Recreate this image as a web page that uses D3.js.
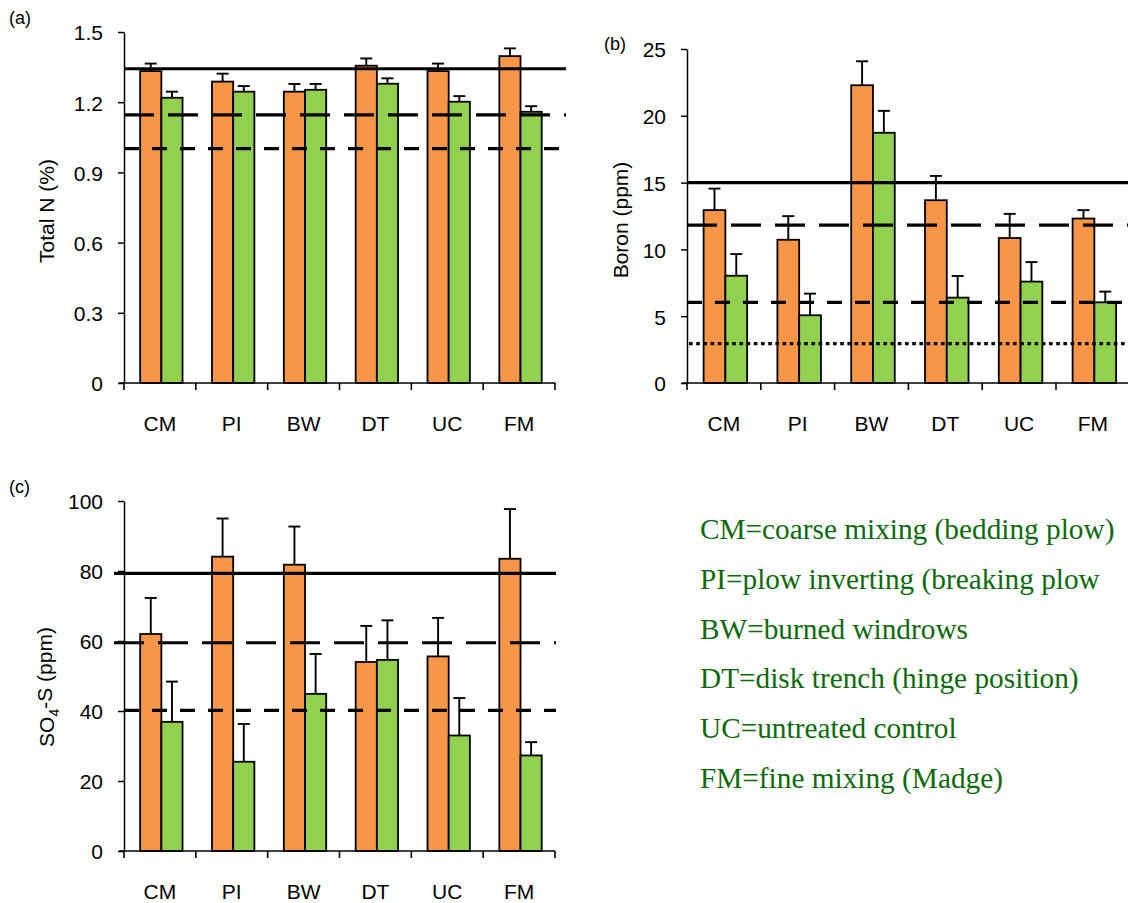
<!DOCTYPE html>
<html>
<head>
<meta charset="utf-8">
<script src="https://cdn.jsdelivr.net/npm/d3@7"></script>
<style>
  html, body { margin: 0; padding: 0; background: #fff; }
  svg { display: block; }
  text { font-family: "Liberation Sans", Arial, sans-serif; fill: #000; }
</style>
</head>
<body>
<svg id="chart" width="1128" height="903"></svg>
<script>
// Site preparation treatments
const treatments = ["CM", "PI", "BW", "DT", "UC", "FM"];

// (a) Total N (%)
const totalNOrange    = [1.333, 1.288, 1.245, 1.356, 1.333, 1.397];
const totalNOrangeErr = [0.032, 0.034, 0.033, 0.031, 0.032, 0.033];
const totalNGreen     = [1.219, 1.245, 1.253, 1.279, 1.202, 1.159];
const totalNGreenErr  = [0.026, 0.024, 0.025, 0.023, 0.024, 0.024];
const totalNRefs      = [1.343, 1.146, 1.002];
const totalNTicks     = [0, 0.3, 0.6, 0.9, 1.2, 1.5];

// (b) Boron (ppm)
const boronOrange     = [12.94, 10.72, 22.29, 13.68, 10.85, 12.31];
const boronOrangeErr  = [1.61, 1.77, 1.79, 1.82, 1.81, 0.63];
const boronGreen      = [8.03, 5.07, 18.73, 6.39, 7.59, 6.04];
const boronGreenErr   = [1.62, 1.62, 1.64, 1.62, 1.46, 0.80];
const boronRefs       = [15.0, 11.82, 6.04, 2.94];
const boronTicks      = [0, 5, 10, 15, 20, 25];

// (c) SO4-S (ppm)
const sulfateOrange    = [62.0, 84.1, 81.8, 54.0, 55.6, 83.5];
const sulfateOrangeErr = [10.3, 10.9, 10.9, 10.3, 11.0, 14.2];
const sulfateGreen     = [36.9, 25.5, 44.9, 54.6, 33.0, 27.3];
const sulfateGreenErr  = [11.5, 10.8, 11.4, 11.3, 10.7, 3.8];
const sulfateRefs      = [79.3, 59.5, 40.2];
const sulfateTicks     = [0, 20, 40, 60, 80, 100];

// Abbreviation key
const keyLines = [
  "CM=coarse mixing (bedding plow)",
  "PI=plow inverting (breaking plow",
  "BW=burned windrows",
  "DT=disk trench (hinge position)",
  "UC=untreated control",
  "FM=fine mixing (Madge)"
];

const ORANGE = "#F79646";
const GREEN = "#92D050";
const FONT_PX = "21px";
const refStyles = [
  { dash: null, width: 3.2 },
  { dash: "30,14", width: 3.2 },
  { dash: "15,13", width: 3.2 },
  { dash: "3.6,3.6", width: 3.2 }
];

const svg = d3.select("#chart");

function drawPanel(opt) {
  const g = svg.append("g");
  const x = d3.scaleBand().domain(treatments).range([opt.left, opt.right]).paddingInner(0).paddingOuter(0);
  const y = d3.scaleLinear().domain([0, opt.max]).range([opt.bottom, opt.top]);
  const step = x.step();
  const barW = step * 0.295;
  const groupStart = step * 0.225;

  const rows = treatments.map((t, i) => ({
    t, o: opt.orange[i], oe: opt.orangeErr[i], gr: opt.green[i], ge: opt.greenErr[i]
  }));

  // bars
  const bars = [];
  rows.forEach(r => {
    bars.push({ x: x(r.t) + groupStart, v: r.o, e: r.oe, c: ORANGE });
    bars.push({ x: x(r.t) + groupStart + barW, v: r.gr, e: r.ge, c: GREEN });
  });

  g.selectAll("rect.bar").data(bars).join("rect")
    .attr("class", "bar")
    .attr("x", d => d.x)
    .attr("y", d => y(d.v))
    .attr("width", barW)
    .attr("height", d => y(0) - y(d.v))
    .attr("fill", d => d.c)
    .attr("stroke", "#000")
    .attr("stroke-width", 1.8);

  // upper error bars
  const eb = g.selectAll("g.err").data(bars).join("g").attr("class", "err")
    .attr("stroke", "#000").attr("stroke-width", 1.9);
  eb.append("line")
    .attr("x1", d => d.x + barW / 2).attr("x2", d => d.x + barW / 2)
    .attr("y1", d => y(d.v)).attr("y2", d => y(d.v + d.e));
  eb.append("line")
    .attr("x1", d => d.x + barW / 2 - 6).attr("x2", d => d.x + barW / 2 + 6)
    .attr("y1", d => y(d.v + d.e)).attr("y2", d => y(d.v + d.e));

  // y axis
  const yAxis = d3.axisLeft(y).tickValues(opt.ticks).tickSize(6).tickSizeOuter(0)
    .tickFormat(d => d3.format("")(d));
  const ya = g.append("g").attr("transform", `translate(${opt.left},0)`).call(yAxis);
  ya.select(".domain").attr("stroke-width", 1.5);
  ya.selectAll(".tick line").attr("stroke-width", 1.5);
  ya.selectAll(".tick text")
    .attr("x", -21).attr("dy", "0.38em")
    .style("font-size", FONT_PX).style("font-family", "Liberation Sans, Arial, sans-serif");

  // x axis: boundary ticks plus centred category names
  const xAxis = d3.axisBottom(x).tickSize(0).tickSizeOuter(0);
  const xa = g.append("g").attr("transform", `translate(0,${opt.bottom})`).call(xAxis);
  xa.select(".domain").remove();
  xa.selectAll(".tick text")
    .attr("y", 48).attr("dy", 0)
    .style("font-size", FONT_PX).style("font-family", "Liberation Sans, Arial, sans-serif");
  g.append("line")
    .attr("x1", opt.left - 5).attr("x2", Math.min(opt.right, 1128))
    .attr("y1", y(0)).attr("y2", y(0))
    .attr("stroke", "#000").attr("stroke-width", 1.6);
  const bounds = treatments.map(t => x(t)).concat([opt.right]).filter(v => v <= 1128);
  g.selectAll("line.bt").data(bounds).join("line").attr("class", "bt")
    .attr("x1", d => d).attr("x2", d => d)
    .attr("y1", y(0)).attr("y2", y(0) + 7)
    .attr("stroke", "#000").attr("stroke-width", 1.6);

  // reference lines
  opt.refs.forEach((v, i) => {
    const st = refStyles[i];
    g.append("line")
      .attr("x1", opt.refStart[i]).attr("x2", opt.refEnd)
      .attr("y1", y(v)).attr("y2", y(v))
      .attr("stroke", "#000").attr("stroke-width", st.width)
      .attr("stroke-dasharray", st.dash);
  });

  // axis title
  const title = g.append("text")
    .attr("transform", `translate(${opt.titleX},${opt.titleY}) rotate(-90)`)
    .attr("text-anchor", "middle")
    .attr("dy", "0.35em")
    .style("font-size", FONT_PX);
  opt.title(title);

  // panel letter
  g.append("text").attr("x", opt.letterX).attr("y", opt.letterY)
    .style("font-size", "18px").text(opt.letter);
}

drawPanel({
  left: 124, right: 555, top: 32, bottom: 383, max: 1.5,
  orange: totalNOrange, orangeErr: totalNOrangeErr,
  green: totalNGreen, greenErr: totalNGreenErr,
  refs: totalNRefs, refStart: [124, 124, 124], refEnd: 566,
  ticks: totalNTicks,
  titleX: 47, titleY: 211,
  title: t => t.text("Total N (%)"),
  letter: "(a)", letterX: 9, letterY: 24
});

drawPanel({
  left: 687, right: 687 + 6 * 73.8, top: 49, bottom: 383, max: 25,
  orange: boronOrange, orangeErr: boronOrangeErr,
  green: boronGreen, greenErr: boronGreenErr,
  refs: boronRefs, refStart: [687, 687, 687, 689], refEnd: 1128,
  ticks: boronTicks,
  titleX: 621, titleY: 220,
  title: t => t.text("Boron (ppm)"),
  letter: "(b)", letterX: 604, letterY: 50
});

drawPanel({
  left: 124, right: 555, top: 501, bottom: 851, max: 100,
  orange: sulfateOrange, orangeErr: sulfateOrangeErr,
  green: sulfateGreen, greenErr: sulfateGreenErr,
  refs: sulfateRefs, refStart: [114, 114, 124], refEnd: 556,
  ticks: sulfateTicks,
  titleX: 47, titleY: 687,
  title: t => {
    t.append("tspan").text("SO");
    t.append("tspan").text("4").style("font-size", "14px").attr("dy", "0.3em");
    t.append("tspan").text("-S (ppm)").attr("dy", "-0.3em");
  },
  letter: "(c)", letterX: 9, letterY: 493
});

// abbreviation key
svg.append("g").selectAll("text").data(keyLines).join("text")
  .attr("x", 700)
  .attr("y", (d, i) => 539 + i * 49.8)
  .style("font-family", "Liberation Serif, Times New Roman, serif")
  .style("font-size", "29.3px")
  .style("fill", "#0b6a0b")
  .text(d => d);
</script>
</body>
</html>
